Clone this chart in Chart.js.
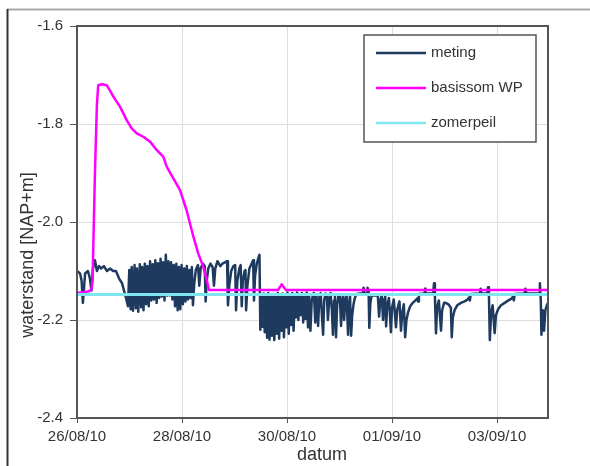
<!DOCTYPE html>
<html>
<head>
<meta charset="utf-8">
<script src="https://cdn.jsdelivr.net/npm/chart.js@4.4.0/dist/chart.umd.min.js"></script>
<style>
  html, body { margin: 0; padding: 0; background: #fff; }
  #wrap { position: relative; width: 590px; height: 466px; }
</style>
</head>
<body>
<div id="wrap"><canvas id="grafiek"></canvas></div>
<script>
// Tijdas: uren sinds 26/08/2010 00:00
const datumUren = [0, 48, 96, 144, 192];
const datumLabels = ['26/08/10', '28/08/10', '30/08/10', '01/09/10', '03/09/10'];
const eindUur = 215.3;
const yTicks = [-2.4, -2.2, -2.0, -1.8, -1.6];
const reeksNamen = ['meting', 'basissom WP', 'zomerpeil'];
const asTitelY = 'waterstand [NAP+m]';
const asTitelX = 'datum';

// gemeten waterstand
const metingUren = [
  0, 1.4, 2.1, 2.7, 3.7, 5.0, 5.9, 6.6, 7.3, 8.2, 9.1, 10.1, 11.0, 12.3, 13.7, 15.1, 16.5, 17.8, 19.2, 20.6, 21.5, 22.4, 23.3,
  23.9, 24.5, 25.0, 25.6, 26.3, 26.9, 27.4, 28.0, 28.7, 29.3, 29.8, 30.4, 31.0, 31.6, 32.2, 32.8, 33.4, 34.0, 34.6, 35.2,
  35.8, 36.4, 37.0, 37.6, 38.2, 38.8, 39.4, 40.0, 40.6, 41.2, 41.8, 42.4, 43.0, 43.6, 44.2, 44.8, 45.4, 46.0, 46.6, 47.2,
  47.8, 48.4, 49.0, 49.6, 50.2, 50.8, 51.4, 52.0, 52.5, 53.0,
  53.6, 54.3, 55.3, 55.9, 56.5, 57.5, 58.4, 58.8, 59.3, 60.0, 61.0, 62.0, 62.6, 63.2, 64.2, 65.5, 66.5, 67.8, 68.6, 69.0,
  69.6, 70.5, 71.5, 72.3, 72.7, 73.3, 74.2, 74.8, 75.3, 75.8, 76.6, 77.0, 77.3, 77.9, 78.8, 79.8, 80.5, 80.9, 81.4, 82.2,
  83.0, 83.4, 83.8,
  84.3, 84.8, 85.3, 85.8, 86.3, 86.9, 87.4, 88.0, 88.5, 89.1, 89.6, 90.2, 90.7, 91.3, 91.8, 92.4, 92.9, 93.5, 94.0, 94.6,
  95.1, 95.7, 96.2, 96.8, 97.3, 97.9, 98.4, 99.0, 99.5, 100.1, 100.6, 101.2, 101.7, 102.3, 102.8, 103.4, 103.9, 104.5,
  105.0, 105.6, 106.1, 106.7,
  107.3, 108.0, 108.3, 108.9, 109.5, 110.2, 110.8, 111.4, 112.0, 112.5, 113.0, 113.6, 114.2, 114.7, 115.3, 115.9, 116.5,
  117.0, 117.5, 117.9, 118.4, 118.9, 119.5, 120.1, 120.7, 121.2, 121.6, 122.1, 122.6, 123.2, 123.9, 124.4, 124.8, 125.3,
  125.8, 126.4, 127.0, 127.8,
  129.5, 130.7, 131.0, 131.4, 132.6, 132.8, 133.3, 133.6, 134.1, 134.7,
  137.5, 138.1, 138.6, 139.3, 139.9, 140.4, 140.9, 141.3, 141.8, 142.6, 143.5, 144.0, 144.8, 145.8, 146.4, 147.4, 148.1,
  148.7, 149.4, 150.0, 150.6, 151.3, 152.3, 153.5, 154.7, 155.6, 155.9, 156.3,
  158.9, 159.1, 159.3,
  162.8, 163.2, 163.6, 164.1, 164.6, 165.4, 166.4, 166.9, 167.8, 168.5, 169.8, 170.9, 171.3, 171.8, 172.6, 173.8, 175.5,
  177.2, 178.6, 179.2, 179.6, 180.0,
  184.2, 184.5, 184.8,
  187.6, 187.9, 188.3, 188.7, 189.3, 190.0, 190.9, 191.5, 192.5, 193.8, 195.5, 197.2, 198.8, 199.3, 199.7, 200.1,
  204.6, 205.0, 205.4,
  211.2, 211.6, 212.0, 212.3, 212.9, 213.5, 214.1, 214.8, 215.3
];
const metingWaarden = [
  -2.100, -2.105, -2.120, -2.165, -2.105, -2.100, -2.115, -2.140, -2.095, -2.078, -2.100, -2.090, -2.095, -2.090, -2.100,
  -2.095, -2.100, -2.100, -2.115, -2.125, -2.140, -2.155, -2.172,
  -2.098, -2.178, -2.092, -2.181, -2.088, -2.176, -2.095, -2.183, -2.086, -2.174, -2.092, -2.180, -2.085, -2.168, -2.090,
  -2.172, -2.080, -2.160, -2.086, -2.158, -2.078, -2.165, -2.084, -2.155, -2.075, -2.152, -2.082, -2.160, -2.067, -2.150,
  -2.080, -2.150, -2.082, -2.158, -2.088, -2.172, -2.085, -2.180, -2.092, -2.178, -2.088, -2.168, -2.095, -2.162, -2.090,
  -2.158, -2.098, -2.155, -2.092, -2.170,
  -2.125, -2.098, -2.088, -2.130, -2.095, -2.085, -2.090, -2.162, -2.120, -2.095, -2.085, -2.092, -2.130, -2.095, -2.080,
  -2.090, -2.085, -2.082, -2.080, -2.170, -2.130, -2.100, -2.090, -2.088, -2.180, -2.120, -2.095, -2.088, -2.172, -2.120,
  -2.100, -2.098, -2.180, -2.130, -2.095, -2.085, -2.078, -2.160, -2.110, -2.085, -2.072, -2.067, -2.220,
  -2.150, -2.214, -2.146, -2.225, -2.148, -2.236, -2.145, -2.240, -2.152, -2.232, -2.147, -2.241, -2.150, -2.228, -2.145,
  -2.238, -2.152, -2.222, -2.146, -2.235, -2.150, -2.215, -2.144, -2.228, -2.148, -2.210, -2.145, -2.222, -2.150, -2.195,
  -2.144, -2.200, -2.148, -2.190, -2.145, -2.205, -2.150, -2.198, -2.144, -2.215, -2.148, -2.222,
  -2.160, -2.146, -2.145, -2.205, -2.150, -2.212, -2.152, -2.145, -2.195, -2.230, -2.160, -2.146, -2.150, -2.200, -2.155,
  -2.145, -2.180, -2.230, -2.160, -2.150, -2.235, -2.170, -2.150, -2.148, -2.212, -2.160, -2.150, -2.200, -2.160, -2.148,
  -2.230, -2.165, -2.150, -2.232, -2.190, -2.168, -2.155, -2.147,
  -2.146, -2.146, -2.134, -2.146, -2.146, -2.134, -2.140, -2.216, -2.165, -2.150,
  -2.150, -2.193, -2.160, -2.150, -2.200, -2.160, -2.152, -2.213, -2.170, -2.155, -2.225, -2.175, -2.158, -2.215, -2.178,
  -2.162, -2.222, -2.185, -2.168, -2.235, -2.200, -2.185, -2.172, -2.165, -2.160, -2.156, -2.162, -2.147,
  -2.146, -2.136, -2.146,
  -2.146, -2.125, -2.150, -2.227, -2.175, -2.160, -2.222, -2.180, -2.165, -2.165, -2.168, -2.175, -2.235, -2.195, -2.180,
  -2.170, -2.165, -2.162, -2.158, -2.154, -2.160, -2.147,
  -2.146, -2.136, -2.146,
  -2.146, -2.133, -2.150, -2.241, -2.185, -2.170, -2.227, -2.190, -2.178, -2.170, -2.165, -2.160, -2.156, -2.152, -2.160,
  -2.147,
  -2.146, -2.136, -2.146,
  -2.146, -2.125, -2.160, -2.230, -2.180, -2.222, -2.180, -2.170, -2.165
];

// berekende basissom WP
const basisUren = [
  0, 5.0, 6.6, 7.1, 8.2, 9.1, 9.7, 11.4, 13.6, 15.1, 16.6, 19.7, 22.7, 25.0, 27.3, 30.3, 33.4, 36.4, 39.5, 41.0, 43.9,
  47.1, 50.1, 53.2, 55.4, 57.7, 59.3, 60.3, 91.9, 93.6, 95.5, 215.3
];
const basisWaarden = [
  -2.145, -2.142, -2.138, -2.120, -1.900, -1.760, -1.721, -1.719, -1.721, -1.732, -1.744, -1.765, -1.792, -1.809, -1.819,
  -1.826, -1.836, -1.853, -1.867, -1.887, -1.910, -1.935, -1.976, -2.030, -2.064, -2.091, -2.118, -2.139, -2.139, -2.127,
  -2.139, -2.139
];

// vast zomerpeil
const zomerUren = [0, 215.3];
const zomerWaarden = [-2.148, -2.148];

const kleuren = ['#1f3a5f', '#ff00ff', '#7fe6ef'];
const lijnDikte = [2.5, 2.5, 3];

function punten(xs, ys) {
  return xs.map((x, i) => ({ x: x, y: ys[i] }));
}

const lettertype = "'Liberation Sans', Arial, sans-serif";
const tekstKleur = '#333';

// kaders rond grafiek en plotgebied
const kaderPlugin = {
  id: 'kader',
  beforeDraw(chart) {
    const ctx = chart.ctx;
    ctx.save();
    ctx.fillStyle = '#fff';
    ctx.fillRect(0, 0, chart.width, chart.height);
    ctx.lineWidth = 2;
    ctx.strokeStyle = '#aaa';
    ctx.beginPath();
    ctx.moveTo(7, 9.5);
    ctx.lineTo(chart.width, 9.5);
    ctx.stroke();
    ctx.strokeStyle = '#333';
    ctx.beginPath();
    ctx.moveTo(7.5, 9);
    ctx.lineTo(7.5, chart.height);
    ctx.stroke();
    ctx.restore();
  },
  afterDatasetsDraw(chart) {
    const a = chart.chartArea;
    const ctx = chart.ctx;
    ctx.save();
    ctx.lineWidth = 2;
    ctx.strokeStyle = '#555';
    ctx.strokeRect(a.left, a.top, a.right - a.left, a.bottom - a.top);
    ctx.restore();
  }
};

// legenda binnen het plotgebied, rechtsboven
const legendaPlugin = {
  id: 'legendaKader',
  afterDraw(chart) {
    const ctx = chart.ctx;
    const box = { x: 364, y: 35, w: 172, h: 107 };
    ctx.save();
    ctx.fillStyle = '#fff';
    ctx.fillRect(box.x, box.y, box.w, box.h);
    ctx.lineWidth = 1.5;
    ctx.strokeStyle = '#555';
    ctx.strokeRect(box.x, box.y, box.w, box.h);
    ctx.font = '15px ' + lettertype;
    ctx.textBaseline = 'middle';
    ctx.textAlign = 'left';
    chart.data.datasets.forEach((ds, i) => {
      const y = 53 + i * 35;
      ctx.strokeStyle = ds.borderColor;
      ctx.lineWidth = 2.5;
      ctx.beginPath();
      ctx.moveTo(376, y);
      ctx.lineTo(426, y);
      ctx.stroke();
      ctx.fillStyle = tekstKleur;
      ctx.fillText(ds.label, 431, y);
    });
    ctx.restore();
  }
};

// astitels
const titelPlugin = {
  id: 'asTitels',
  afterDraw(chart) {
    const ctx = chart.ctx;
    ctx.save();
    ctx.fillStyle = tekstKleur;
    ctx.font = '18px ' + lettertype;
    ctx.textAlign = 'center';
    ctx.textBaseline = 'middle';
    ctx.fillText(asTitelX, 322, 455);
    ctx.translate(28, 255);
    ctx.rotate(-Math.PI / 2);
    ctx.fillText(asTitelY, 0, 0);
    ctx.restore();
  }
};

new Chart(document.getElementById('grafiek'), {
  type: 'line',
  data: {
    datasets: [
      { label: reeksNamen[0], data: punten(metingUren, metingWaarden), borderColor: kleuren[0], borderWidth: lijnDikte[0], order: 3 },
      { label: reeksNamen[1], data: punten(basisUren, basisWaarden), borderColor: kleuren[1], borderWidth: lijnDikte[1], order: 2 },
      { label: reeksNamen[2], data: punten(zomerUren, zomerWaarden), borderColor: kleuren[2], borderWidth: lijnDikte[2], order: 1 }
    ]
  },
  options: {
    responsive: true,
    maintainAspectRatio: false,
    animation: false,
    events: [],
    elements: {
      point: { radius: 0 },
      line: { tension: 0, fill: false, borderJoinStyle: 'round', borderCapStyle: 'butt' }
    },
    layout: { padding: { left: 0, top: 26, right: 42, bottom: 0 } },
    plugins: { legend: { display: false }, tooltip: { enabled: false } },
    scales: {
      x: {
        type: 'linear',
        min: 0,
        max: eindUur,
        afterBuildTicks: (scale) => { scale.ticks = datumUren.map(v => ({ value: v })); },
        afterFit: (scale) => { scale.height = 48; },
        grid: { color: '#dedede', lineWidth: 1, tickColor: '#555', tickLength: 5 },
        border: { display: false },
        ticks: {
          autoSkip: false,
          maxRotation: 0,
          padding: 5,
          color: tekstKleur,
          font: { family: lettertype, size: 15 },
          callback: (v, i) => datumLabels[i]
        }
      },
      y: {
        type: 'linear',
        min: -2.4,
        max: -1.6,
        afterBuildTicks: (scale) => { scale.ticks = yTicks.map(v => ({ value: v })); },
        afterFit: (scale) => { scale.width = 77; },
        grid: { color: '#dedede', lineWidth: 1, tickColor: '#555', tickLength: 7 },
        border: { display: false },
        ticks: {
          padding: 7,
          color: tekstKleur,
          font: { family: lettertype, size: 15 },
          callback: (v) => Number(v).toFixed(1)
        }
      }
    }
  },
  plugins: [kaderPlugin, legendaPlugin, titelPlugin]
});
</script>
</body>
</html>
